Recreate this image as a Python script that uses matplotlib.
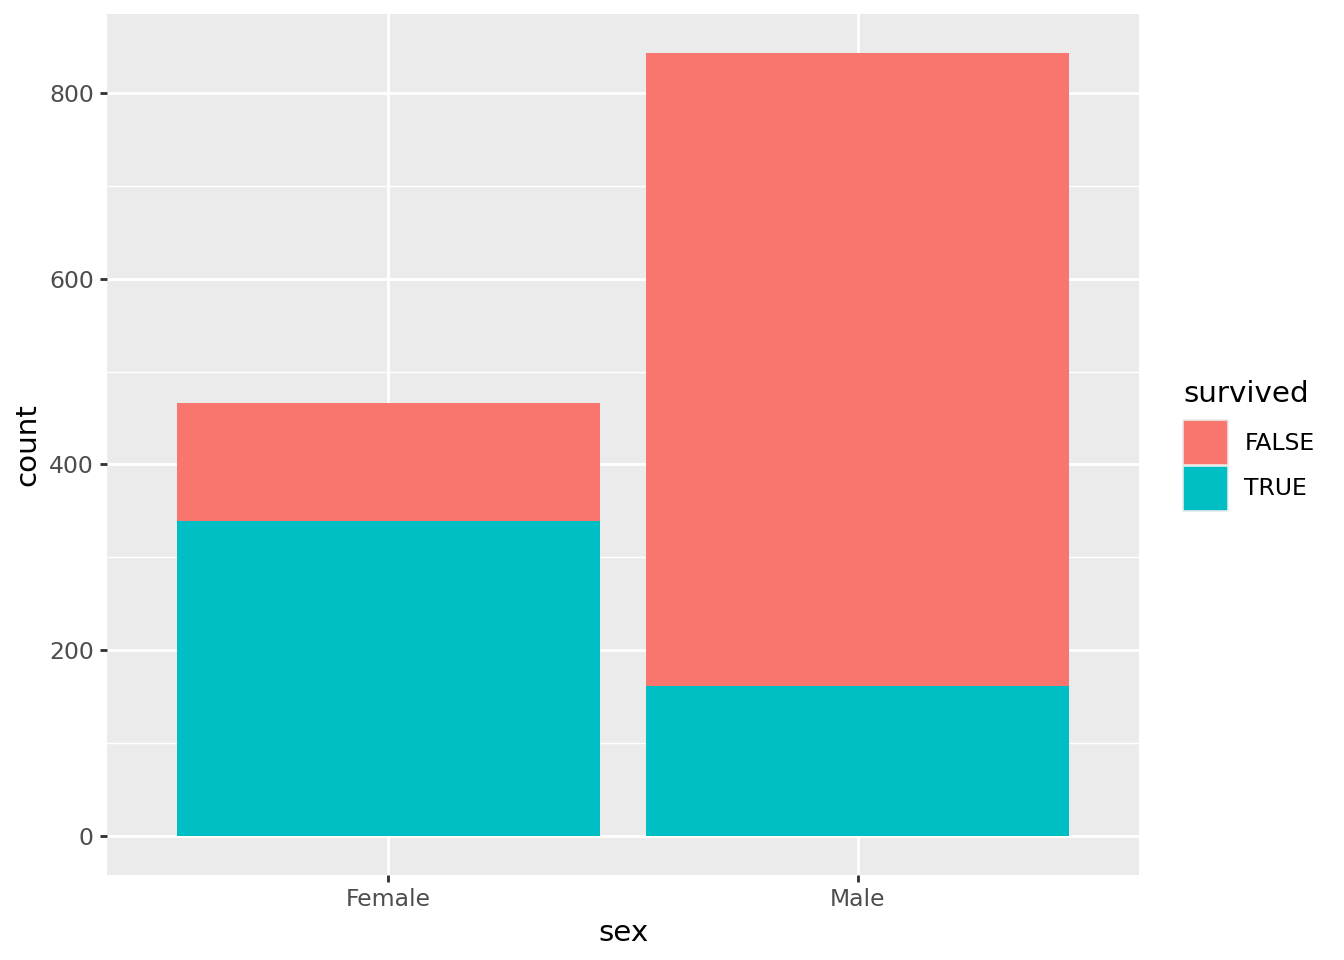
import matplotlib.pyplot as plt
from matplotlib.patches import Patch

sexes = ['Female', 'Male']
survived_true = [339, 161]
survived_false = [127, 682]
fill_false = '#F8766D'
fill_true = '#00BFC4'

fig = plt.figure(figsize=(7, 5), dpi=192)
ax = fig.add_axes([107 / 1344, 1 - 875 / 960, (1139 - 107) / 1344, (875 - 14) / 960])
ax.set_facecolor('#EBEBEB')

x = list(range(len(sexes)))
ax.bar(x, survived_true, width=0.9, color=fill_true, zorder=3)
ax.bar(x, survived_false, width=0.9, bottom=survived_true, color=fill_false, zorder=3)

ax.set_xlim(-0.6, 1.6)
total = max(t + f for t, f in zip(survived_true, survived_false))
ax.set_ylim(-0.05 * total, 1.05 * total)
ax.set_xticks(x)
ax.set_xticklabels(sexes)
ax.set_yticks([0, 200, 400, 600, 800])
ax.set_yticks([100, 300, 500, 700], minor=True)

ax.grid(which='major', color='white', linewidth=1.07, zorder=1)
ax.grid(which='minor', axis='y', color='white', linewidth=0.53, zorder=1)
ax.set_axisbelow(True)
for s in ax.spines.values():
    s.set_visible(False)
ax.tick_params(which='major', length=2.75, width=1.07, color='#333333',
               labelsize=8.8, labelcolor='#4D4D4D', pad=2.2)
ax.tick_params(which='minor', length=0)

ax.set_xlabel('sex', fontsize=11, labelpad=2.75)
ax.set_ylabel('count', fontsize=11, labelpad=2.75)

# legend keys in ggplot style (grey key background shows as thin border)
handles = [Patch(facecolor=fill_false, edgecolor='#EBEBEB', linewidth=0.6),
           Patch(facecolor=fill_true, edgecolor='#EBEBEB', linewidth=0.6)]
leg = fig.legend(handles, ['FALSE', 'TRUE'], title='survived',
                 loc='upper left', bbox_to_anchor=(1183 / 1344, 1 - 380 / 960),
                 frameon=False, fontsize=8.8, title_fontsize=11,
                 handlelength=1.92, handleheight=2.58, handletextpad=0.7,
                 labelspacing=0.03, borderaxespad=0, borderpad=0)
leg._legend_box.align = 'left'
leg._legend_box.sep = 4.5

fig.savefig('out.png', dpi=192)
